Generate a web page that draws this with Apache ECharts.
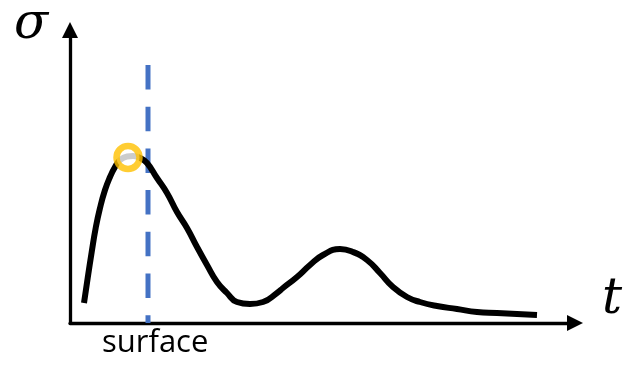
<!DOCTYPE html>
<html>
<head>
<meta charset="utf-8">
<script src="https://cdn.jsdelivr.net/npm/echarts@6/dist/echarts.min.js"></script>
<style>html,body{margin:0;padding:0;background:#fff;}#c{width:625px;height:366px;}</style>
</head>
<body>
<div id="c"></div>
<script>
// Curve (t, sigma)
const curveT = [14, 17.7, 21.7, 25.7, 30, 35, 40, 45, 50, 57, 63, 70, 77, 87, 97, 107, 117, 127, 137, 147, 157, 167, 180, 193, 207, 213, 227, 240, 253, 270, 283, 297, 310, 323, 337, 350, 367, 387, 407, 427, 447, 467];
const curveS = [20, 45, 71, 95, 115, 133, 146, 156, 163, 166.5, 167, 165, 160, 145, 130, 111, 95, 76, 58, 41, 30, 21, 19, 21, 30, 35, 46, 58, 68, 74, 71, 63, 50, 36, 26, 21, 17, 14, 11, 10, 9, 8];
const peakPoint = [58, 165.5];
const surfaceT = 78;
const surfaceTop = 258;
const xLabel = 't';
const yLabel = 'σ';
const surfaceLabel = 'surface';

const chart = echarts.init(document.getElementById('c'), null, {renderer: 'canvas'});
const curve = curveT.map((t, i) => [t, curveS[i]]);
chart.setOption({
  animation: false,
  grid: {left: 70, right: 50, top: 30, bottom: 43},
  xAxis: {
    type: 'value', min: 0, max: 505,
    axisLine: {show: true, onZero: true, symbol: ['none', 'triangle'], symbolSize: [16, 16],
      lineStyle: {color: '#000', width: 3.3}},
    axisTick: {show: false}, axisLabel: {show: false}, splitLine: {show: false}
  },
  yAxis: {
    type: 'value', min: 0, max: 293,
    axisLine: {show: true, onZero: true, symbol: ['none', 'triangle'], symbolSize: [16, 16],
      lineStyle: {color: '#000', width: 3.3}},
    axisTick: {show: false}, axisLabel: {show: false}, splitLine: {show: false}
  },
  series: [
    {
      type: 'line', data: [[surfaceT, surfaceTop], [surfaceT, 0]], symbol: 'none', z: 1,
      lineStyle: {color: '#4472C4', width: 5, type: [24.5, 17.2]}
    },
    {
      type: 'line', data: curve, smooth: 0.5, symbol: 'none', z: 2,
      lineStyle: {color: '#000', width: 6, cap: 'butt'}
    },
    {
      type: 'scatter', data: [peakPoint], symbol: 'circle', symbolSize: 23, z: 3,
      itemStyle: {color: '#fff', borderColor: '#FFC000', borderWidth: 6.5}
    }
  ],
  graphic: [
    {type: 'text', left: 14, top: 0, style: {text: yLabel, font: 'italic 50px "DejaVu Serif"', fill: '#000'}},
    {type: 'text', left: 602, top: 275, style: {text: xLabel, font: 'italic 50px "DejaVu Serif"', fill: '#000'}},
    {type: 'text', left: 102, top: 328, style: {text: surfaceLabel, font: '31px "Open Sans"', fill: '#000'}}
  ]
});
</script>
</body>
</html>
